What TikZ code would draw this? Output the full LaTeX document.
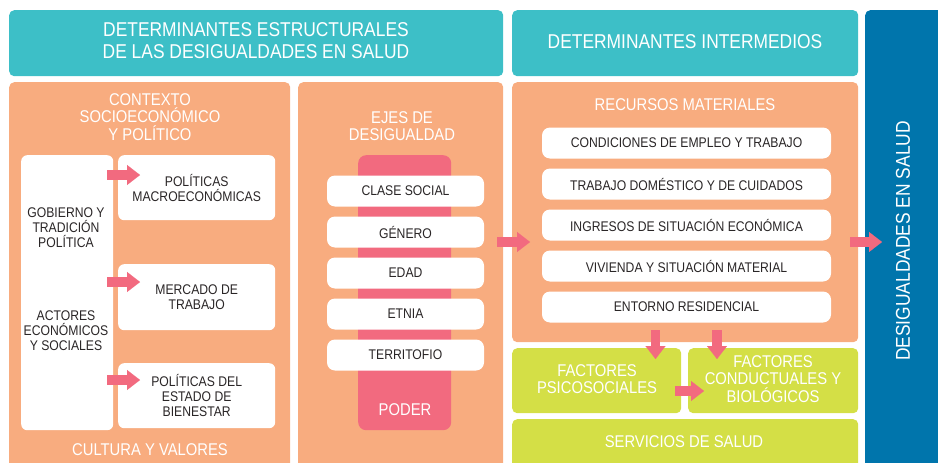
\documentclass[tikz,border=0pt]{standalone}
\usepackage{fontspec}
\setmainfont{Liberation Sans}[FakeStretch=0.87]
\usetikzlibrary{arrows.meta}
\definecolor{cteal}{HTML}{3DBFC7}
\definecolor{corange}{HTML}{F8AC7F}
\definecolor{cblue}{HTML}{0075AC}
\definecolor{cgreen}{HTML}{D4DF46}
\definecolor{cpink}{HTML}{F26A7F}
\definecolor{cdark}{HTML}{2A2627}
\tikzset{
  box/.style={anchor=north west, inner sep=0pt, rounded corners=5pt, draw=none},
  tbox/.style={box, fill=cteal},
  obox/.style={box, fill=corange},
  gbox/.style={box, fill=cgreen},
  bbox/.style={box, fill=cblue},
  wbox/.style={box, fill=white, rounded corners=6pt},
  pill/.style={fill=white, rounded corners=8pt, inner sep=0pt, minimum height=31pt},
  title/.style={text=white, font=\fontsize{20}{22}\selectfont, align=center},
  head/.style={text=white, font=\fontsize{17}{17.5}\selectfont, align=center},
  lbl/.style={text=cdark, font=\fontsize{14}{15}\selectfont, align=center},
  parrow/.style={draw=cpink, line width=9.5pt, line cap=butt,
     -{Triangle[length=13pt,width=20pt,line width=0.1pt]}}
}
\begin{document}
\begin{tikzpicture}[x=1pt,y=-1pt]
\useasboundingbox (0,0) rectangle (938,463);
\clip (0,0) rectangle (938,463);
% top headers
\node[tbox, minimum width=494pt, minimum height=66pt] (t1) at (9,10) {};
\node[title] (t1txt) at (256,41) {DETERMINANTES ESTRUCTURALES\\DE LAS DESIGUALDADES EN SALUD};
\node[tbox, minimum width=346pt, minimum height=66pt] (t2) at (512,10) {};
\node[title] (t2txt) at (685,42) {DETERMINANTES INTERMEDIOS};
\node[bbox, minimum width=90pt, minimum height=470pt] (sal) at (865,10) {};
\node[title, rotate=90] (saltxt) at (903,241) {DESIGUALDADES EN SALUD};
% orange column 1
\node[obox, minimum width=281pt, minimum height=400pt] (ctx) at (9,82) {};
\node[head] (ctxtxt) at (150,117) {CONTEXTO\\SOCIOECONÓMICO\\Y POLÍTICO};
\node[head] (cult) at (150,450) {CULTURA Y VALORES};
\node[wbox, minimum width=92pt, minimum height=275pt] (gob) at (21,155) {};
\node[lbl] (gobtxt) at (66,228) {GOBIERNO Y\\TRADICIÓN\\POLÍTICA};
\node[lbl] (acttxt) at (66,331) {ACTORES\\ECONÓMICOS\\Y SOCIALES};
\node[wbox, minimum width=157pt, minimum height=65pt] (pm) at (118,155) {};
\node[lbl] (pmtxt) at (pm.center) {POLÍTICAS\\MACROECONÓMICAS};
\node[wbox, minimum width=157pt, minimum height=66pt] (mt) at (118,264) {};
\node[lbl] (mttxt) at (mt.center) {MERCADO DE\\TRABAJO};
\node[wbox, minimum width=157pt, minimum height=65pt] (pe) at (118,363) {};
\node[lbl] (petxt) at (pe.center) {POLÍTICAS DEL\\ESTADO DE\\BIENESTAR};
% orange column 2
\node[obox, minimum width=205pt, minimum height=400pt] (ejes) at (298,82) {};
\node[head] (ejestxt) at (402,126) {EJES DE\\DESIGUALDAD};
\node[box, fill=cpink, rounded corners=8pt, minimum width=93pt, minimum height=275pt] (poder) at (358,155) {};
\node[head] (podertxt) at (405,410) {PODER};
\foreach \n/\t/\y in {e1/CLASE SOCIAL/191, e2/GÉNERO/232, e3/EDAD/273, e4/ETNIA/314, e5/TERRITOFIO/355}{
  \node[pill, lbl, minimum width=157pt] (\n) at (405.5,\y) {\t};
}
% orange column 3
\node[obox, minimum width=346pt, minimum height=260pt] (rec) at (512,82) {};
\node[head] (rectxt) at (685,105) {RECURSOS MATERIALES};
\foreach \n/\t/\y in {r1/CONDICIONES DE EMPLEO Y TRABAJO/143, r2/TRABAJO DOMÉSTICO Y DE CUIDADOS/184, r3/INGRESOS DE SITUACIÓN ECONÓMICA/225, r4/VIVIENDA Y SITUACIÓN MATERIAL/266, r5/ENTORNO RESIDENCIAL/307}{
  \node[pill, lbl, minimum width=289pt] (\n) at (686.5,\y) {\t};
}
% green boxes
\node[gbox, minimum width=169pt, minimum height=65pt] (psi) at (512,348) {};
\node[head] (psitxt) at (597,379) {FACTORES\\PSICOSOCIALES};
\node[gbox, minimum width=170pt, minimum height=65pt] (cond) at (688,348) {};
\node[head] (condtxt) at (773,379) {FACTORES\\CONDUCTUALES Y\\BIOLÓGICOS};
\node[gbox, minimum width=346pt, minimum height=60pt] (serv) at (512,419) {};
\node[head] (servtxt) at (684,442) {SERVICIOS DE SALUD};
% arrows
\coordinate (a1s) at (107,175); \coordinate (a1e) at (140,175);
\coordinate (a2s) at (107,282); \coordinate (a2e) at (140,282);
\coordinate (a3s) at (107,380); \coordinate (a3e) at (140,380);
\coordinate (a4s) at (497,242); \coordinate (a4e) at (530,242);
\coordinate (a5s) at (850,242); \coordinate (a5e) at (882,242);
\coordinate (a6s) at (655.5,330); \coordinate (a6e) at (655.5,359);
\coordinate (a7s) at (717,330); \coordinate (a7e) at (717,359);
\coordinate (a8s) at (675,391); \coordinate (a8e) at (704,391);
\foreach \i in {1,...,8}{\draw[parrow] (a\i s) -- (a\i e);}
\end{tikzpicture}
\end{document}
